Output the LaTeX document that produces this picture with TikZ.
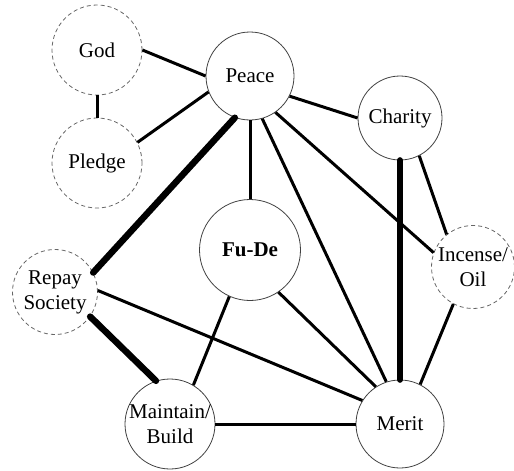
\documentclass[tikz,border=0pt]{standalone}
\usepackage{fontspec}
\setmainfont{Liberation Serif}
\usepackage{tikz}
\usetikzlibrary{positioning}
\tikzset{
  conc/.style   ={draw=black!75, circle, line width=0.8pt, inner sep=0pt},
  dconc/.style  ={conc, draw=black!60, dash pattern=on 4pt off 3pt},
  txt/.style    ={align=center, inner sep=0pt, font=\fontsize{21}{25}\selectfont},
  lnk/.style    ={line width=3pt},
  biglnk/.style ={line width=6.5pt, line cap=round},
}

\begin{document}
\begin{tikzpicture}[x=1pt, y=-1pt]
  \useasboundingbox (0,0) rectangle (514,471);

  \node[dconc, minimum size=90pt,  label={[txt]center:God}]                 (god)      at (97,50)   {};
  \node[dconc, minimum size=90pt,  label={[txt]center:Pledge}]              (pledge)   at (97,163)  {};
  \node[conc,  minimum size=88pt,  label={[txt]center:Peace}]               (peace)    at (250,76)  {};
  \node[conc,  minimum size=84pt,  label={[txt]center:Charity}]             (charity)  at (400,118) {};
  \node[conc,  minimum size=101pt, label={[txt]center:\textbf{Fu-De}}]      (fude)     at (250,250) {};
  \node[dconc, minimum size=85pt,  label={[txt]center:Repay\\Society}]      (repay)    at (55,292)  {};
  \node[dconc, minimum size=83pt,  label={[txt]center:Incense/\\Oil}]       (incense)  at (473,267) {};
  \node[conc,  minimum size=90pt,  label={[txt]center:Maintain/\\Build}]    (maintain) at (170,424) {};
  \node[conc,  minimum size=88pt,  label={[txt]center:Merit}]               (merit)    at (400,424) {};

  \draw[lnk] (god.east) -- (peace.west);
  \draw[lnk] (god.south) -- (pledge.north);
  \draw[lnk] (pledge.27) -- (peace.201);
  \draw[biglnk] (peace.-110) -- (repay.27);
  \draw[lnk] (peace.south) -- (fude.north);
  \draw[lnk] (peace.-27) -- (charity.west);
  \draw[lnk] (peace.-74) -- (merit.108);
  \draw[lnk] (peace.-55) -- (incense.160);
  \draw[biglnk] (charity.south) -- (merit.north);
  \draw[lnk] (charity.-63) -- (incense.129);
  \draw[lnk] (incense.-118) -- (merit.63);
  \draw[lnk] (fude.-56) -- (merit.123);
  \draw[lnk] (fude.-114) -- (maintain.59);
  \draw[lnk] (repay.2) -- (merit.148);
  \draw[biglnk] (repay.-35) -- (maintain.108);
  \draw[lnk] (maintain.east) -- (merit.west);
\end{tikzpicture}
\end{document}
